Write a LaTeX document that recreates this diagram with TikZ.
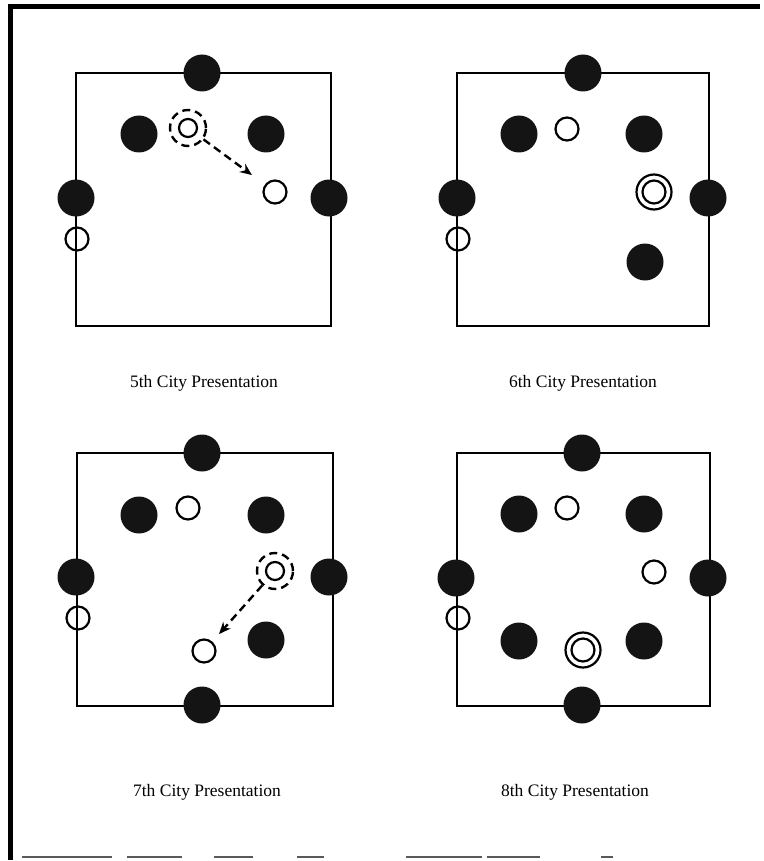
\documentclass[tikz,border=0pt]{standalone}
\usepackage{fontspec}
\setmainfont{Liberation Serif}
\usetikzlibrary{arrows.meta}
\begin{document}
\begin{tikzpicture}[x=1pt,y=-1pt,
  dot/.style={circle,fill=black!92,minimum size=37pt,inner sep=0pt},
  ring/.style={circle,draw,line width=2.2pt,minimum size=23pt,inner sep=0pt},
  dring/.style={circle,draw,line width=2.4pt,dash pattern=on 8pt off 5pt,minimum size=36pt,inner sep=0pt},
  iring/.style={circle,draw,line width=2.2pt,minimum size=18pt,inner sep=0pt},
  oring/.style={circle,draw,line width=2.2pt,minimum size=35pt,inner sep=0pt},
  box/.style={draw,line width=2pt},
  move/.style={line width=2.4pt,dash pattern=on 8pt off 5pt,-{Stealth[length=12pt,width=10pt]}},
  lab/.style={font=\fontsize{17.5}{20}\selectfont,inner sep=0pt},
  edge/.style={line width=1.5pt,black!65}]
\useasboundingbox (0,0) rectangle (763,861);
% outer frame
\draw[line width=5pt] (10,860) -- (10,7) -- (760,7);
\foreach \a/\b in {22/112,127/182,214/253,297/324,406/482,487/540,601/613}
  \draw[edge] (\a,857) -- (\b,857);

% panel 1: 5th
\begin{scope}[shift={(76,73)}]
\draw[box] (0,0) rectangle (255,253);
\node[dot] (a1) at (126,0) {};
\node[dot] (a2) at (63,61) {};
\node[dot] (a3) at (190,61) {};
\node[dot] (a4) at (0,125) {};
\node[dot] (a5) at (253,125) {};
\node[ring] (a6) at (1,166) {};
\node[dring] (a7) at (112,55) {};
\node[iring] (a8) at (112,55) {};
\node[ring] (a9) at (199,119) {};
\draw[move,shorten >=16pt] (a7) -- (a9);
\end{scope}
\node[lab] (l1) at (204,383) {5th City Presentation};

% panel 2: 6th
\begin{scope}[shift={(457,73)}]
\draw[box] (0,0) rectangle (252,253);
\node[dot] (b1) at (126,0) {};
\node[dot] (b2) at (62,61) {};
\node[dot] (b3) at (187,61) {};
\node[dot] (b4) at (0,125) {};
\node[dot] (b5) at (251,125) {};
\node[ring] (b6) at (1,166) {};
\node[ring] (b7) at (110,56) {};
\node[oring] (b8) at (197,119) {};
\node[ring] (b9) at (197,119) {};
\node[dot] (b10) at (188,189) {};
\end{scope}
\node[lab] (l2) at (583,383) {6th City Presentation};

% panel 3: 7th
\begin{scope}[shift={(77,453)}]
\draw[box] (0,0) rectangle (256,253);
\node[dot] (c1) at (125,0) {};
\node[dot] (c2) at (62,62) {};
\node[dot] (c3) at (189,62) {};
\node[dot] (c4) at (-1,124) {};
\node[dot] (c5) at (252,124) {};
\node[ring] (c6) at (1,165) {};
\node[ring] (c7) at (111,55) {};
\node[dring] (c8) at (198,118) {};
\node[iring] (c9) at (198,118) {};
\node[ring] (c10) at (127,198) {};
\node[dot] (c11) at (189,187) {};
\node[dot] (c12) at (125,252) {};
\draw[move,shorten >=10pt] (c8) -- (c10);
\end{scope}
\node[lab] (l3) at (207,792) {7th City Presentation};

% panel 4: 8th
\begin{scope}[shift={(457,453)}]
\draw[box] (0,0) rectangle (253,253);
\node[dot] (d1) at (125,0) {};
\node[dot] (d2) at (62,61) {};
\node[dot] (d3) at (187,61) {};
\node[dot] (d4) at (-1,125) {};
\node[dot] (d5) at (251,125) {};
\node[ring] (d6) at (1,165) {};
\node[ring] (d7) at (110,55) {};
\node[ring] (d8) at (197,119) {};
\node[dot] (d9) at (62,188) {};
\node[dot] (d10) at (187,188) {};
\node[oring] (d11) at (126,197) {};
\node[ring] (d12) at (126,197) {};
\node[dot] (d13) at (125,252) {};
\end{scope}
\node[lab] (l4) at (575,792) {8th City Presentation};
\end{tikzpicture}
\end{document}
